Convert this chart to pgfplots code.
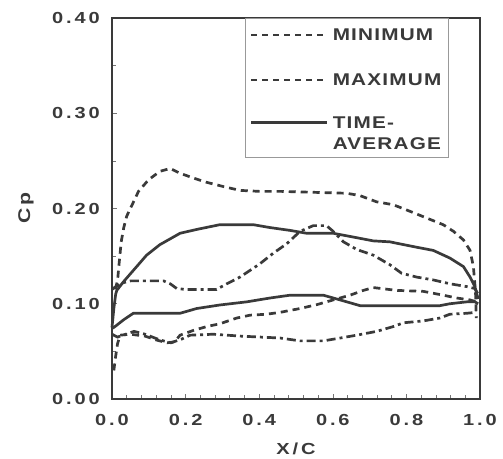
\documentclass[border=0pt]{standalone}
\usepackage{fontspec}
\usepackage{pgfplots}
\pgfplotsset{compat=1.18}
\newfontfamily\tickfont{Liberation Sans Bold}[FakeStretch=1.25, LetterSpace=18]
\newfontfamily\legfont{Liberation Sans Bold}[FakeStretch=1.22, LetterSpace=7]
\definecolor{ink}{HTML}{3A3A3A}
\pgfplotsset{talllegend/.style={legend image code/.code={\draw[##1] (0bp,10.5bp) -- (76bp,10.5bp);}}}
\begin{document}
\begin{tikzpicture}
\begin{axis}[
  scale only axis, width=368bp, height=381bp,
  xmin=0, xmax=1, ymin=0, ymax=0.4,
  xtick={0,0.2,0.4,0.6,0.8,1}, minor x tick num=4,
  ytick={0,0.1,0.2,0.3,0.4}, minor y tick num=1,
  tick pos=left, tick align=inside,
  major tick length=5bp, minor tick length=4bp,
  tick style={ink!70, line width=0.6bp},
  axis line style={ink, line width=1.8bp},
  tick label style={font=\tickfont\fontsize{16bp}{18bp}\selectfont, text=ink},
  xticklabel style={anchor=north, inner sep=0pt, yshift=-15bp, /pgf/number format/fixed, /pgf/number format/fixed zerofill, /pgf/number format/precision=1, /pgf/number format/assume math mode=true},
  yticklabel style={anchor=east, inner sep=0pt, xshift=-12bp, /pgf/number format/fixed, /pgf/number format/fixed zerofill, /pgf/number format/precision=2, /pgf/number format/assume math mode=true},
  xlabel={X/C}, ylabel={Cp},
  every axis x label/.style={at={(axis description cs:0.5,-0.131)}, anchor=center, font=\tickfont\fontsize{16bp}{18bp}\selectfont, text=ink},
  every axis y label/.style={at={(axis description cs:-0.234,0.501)}, rotate=90, anchor=center, font=\tickfont\fontsize{17bp}{19bp}\selectfont, text=ink},
  legend style={at={(0.361,1)}, anchor=north west, draw=gray!80, line width=0.7bp, fill=white,
    font=\legfont\fontsize{17bp}{21bp}\selectfont, text=ink,
    inner xsep=5bp, inner ysep=8bp, row sep=28bp, column sep=2bp},
  legend cell align=left,
  legend image code/.code={\draw[#1] (0bp,0bp) -- (76bp,0bp);},
  clip=false,
]
\addlegendimage{ink, line width=2.6bp, dash pattern=on 6bp off 5bp}
\addlegendentry{MINIMUM}
\addlegendimage{ink, line width=2.6bp, dash pattern=on 6bp off 5bp}
\addlegendentry{MAXIMUM}
\addlegendimage{ink, line width=2.6bp, talllegend}
\addlegendentry[align=left, inner ysep=0pt, text depth=0pt]{TIME-\\AVERAGE}
% MINIMUM (case 1)
\addplot[ink, line width=2.7bp, dash pattern=on 9bp off 4bp on 3bp off 4bp, forget plot] coordinates {
(0.0,0.115)(0.01,0.118)(0.03,0.122)(0.05,0.124)(0.14,0.124)(0.158,0.121)(0.176,0.116)(0.2,0.115)(0.284,0.115)(0.312,0.121)(0.348,0.128)(0.402,0.142)(0.438,0.153)(0.475,0.163)(0.511,0.176)(0.547,0.182)(0.583,0.182)(0.601,0.176)(0.629,0.165)(0.665,0.157)(0.71,0.151)(0.755,0.141)(0.787,0.132)(0.828,0.128)(0.873,0.125)(0.918,0.121)(0.964,0.118)(0.986,0.116)(0.995,0.11)
};
% MAXIMUM (case 1)
\addplot[ink, line width=2.7bp, dash pattern=on 7bp off 5bp, forget plot] coordinates {
(0.01,0.115)(0.016,0.128)(0.02,0.145)(0.025,0.165)(0.032,0.180)(0.04,0.192)(0.05,0.200)(0.072,0.218)(0.099,0.230)(0.13,0.239)(0.158,0.242)(0.185,0.237)(0.221,0.232)(0.257,0.2275)(0.303,0.223)(0.348,0.219)(0.40,0.218)(0.457,0.218)(0.547,0.217)(0.638,0.216)(0.674,0.2135)(0.719,0.207)(0.764,0.204)(0.81,0.197)(0.855,0.190)(0.9,0.183)(0.928,0.176)(0.955,0.167)(0.973,0.156)(0.982,0.139)(0.986,0.121)(0.988,0.11)(0.99,0.085)
};
% TIME-AVERAGE (case 1)
\addplot[ink, line width=2.7bp, forget plot] coordinates {
(0.0,0.075)(0.005,0.095)(0.01,0.110)(0.013,0.114)(0.031,0.123)(0.058,0.135)(0.094,0.151)(0.13,0.162)(0.185,0.174)(0.23,0.178)(0.293,0.183)(0.384,0.183)(0.429,0.180)(0.484,0.177)(0.529,0.174)(0.601,0.174)(0.656,0.170)(0.71,0.166)(0.755,0.165)(0.819,0.160)(0.873,0.156)(0.918,0.148)(0.955,0.139)(0.973,0.128)(0.986,0.118)(0.995,0.105)
};
% TIME-AVERAGE (case 2)
\addplot[ink, line width=2.7bp, forget plot] coordinates {
(0.0,0.074)(0.008,0.076)(0.031,0.083)(0.058,0.090)(0.185,0.090)(0.23,0.095)(0.293,0.0987)(0.366,0.102)(0.429,0.106)(0.484,0.109)(0.574,0.109)(0.62,0.104)(0.674,0.098)(0.891,0.098)(0.918,0.100)(0.964,0.102)(0.986,0.102)(0.995,0.10)
};
% MAXIMUM (case 2)
\addplot[ink, line width=2.7bp, dash pattern=on 7bp off 5bp, forget plot] coordinates {
(0.005,0.03)(0.01,0.045)(0.015,0.058)(0.022,0.067)(0.05,0.068)(0.09,0.066)(0.12,0.062)(0.15,0.059)(0.17,0.060)(0.185,0.067)(0.221,0.072)(0.257,0.076)(0.293,0.079)(0.339,0.085)(0.375,0.088)(0.42,0.089)(0.457,0.091)(0.511,0.095)(0.556,0.099)(0.601,0.104)(0.647,0.109)(0.683,0.114)(0.71,0.117)(0.774,0.114)(0.846,0.113)(0.9,0.109)(0.937,0.106)(0.973,0.104)(0.99,0.102)
};
% MINIMUM (case 2)
\addplot[ink, line width=2.7bp, dash pattern=on 9bp off 4bp on 3bp off 4bp, forget plot] coordinates {
(0.0,0.068)(0.015,0.065)(0.03,0.067)(0.06,0.071)(0.09,0.068)(0.13,0.062)(0.16,0.059)(0.19,0.063)(0.212,0.067)(0.275,0.068)(0.35,0.066)(0.457,0.064)(0.511,0.061)(0.574,0.061)(0.62,0.064)(0.665,0.067)(0.719,0.071)(0.764,0.076)(0.792,0.080)(0.846,0.082)(0.891,0.085)(0.918,0.089)(0.964,0.090)(0.99,0.091)
};
\coordinate (O) at (rel axis cs:0,0);
\end{axis}
\pgfresetboundingbox
\path (O) ++(-112bp,-60bp) rectangle ++(503bp,459bp);
\end{tikzpicture}
\end{document}
